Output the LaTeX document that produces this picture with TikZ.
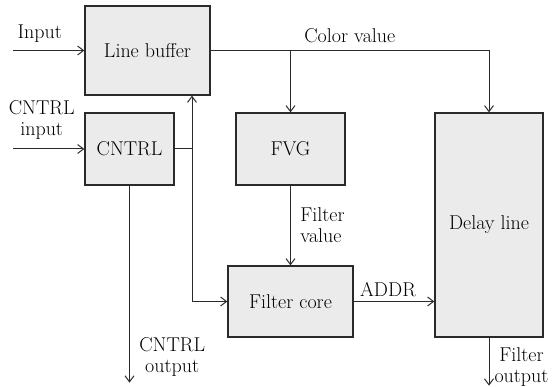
\documentclass[tikz,border=0pt]{standalone}
\usetikzlibrary{arrows.meta,calc}
\definecolor{BoxFill}{HTML}{EBEBEB}
\definecolor{LineGray}{HTML}{2A2A2A}

\begin{document}
\begin{tikzpicture}[x=1pt,y=-1pt,>={Straight Barb[length=6pt,width=9pt]},line cap=butt,line join=miter,
  every node/.style={font=\fontsize{20}{21}\selectfont,text=black},
  block/.style={draw=LineGray,fill=BoxFill,line width=1.2pt,inner sep=0pt},
  wire/.style={LineGray,line width=1pt}]

% Frame of the picture (pixel units, y down)
\useasboundingbox (0,0) rectangle (556,387);

% ---- BLOCKS ----
\node[block,minimum width=125pt,minimum height=89pt] (lb) at (147.5,50.5) {Line buffer};
\node[block,minimum width=89pt,minimum height=72pt] (cntrl) at (129.5,149) {CNTRL};
\node[block,minimum width=109pt,minimum height=72pt] (fvg) at (290.5,149) {FVG};
\node[block,minimum width=125pt,minimum height=71pt] (fc) at (290.5,301.5) {Filter core};
\node[block,minimum width=108pt,minimum height=224pt] (dl) at (489,225) {Delay line};

% Free ends and junction
\coordinate (in) at (13,50.5);
\coordinate (cin) at (13,149);
\coordinate (junc) at (192,149);
\path (cntrl.south) ++(0,197) coordinate (cout);
\path (dl.south) ++(0,48) coordinate (fout);

% ---- INPUTS ----
\draw[wire,->] (in) -- (lb.west)
    node[midway,above,xshift=-9pt,yshift=4pt] (inlbl) {Input};
\draw[wire,->] (cin) -- (cntrl.west)
    node[midway,above,align=center,xshift=-7pt,yshift=6pt] (cinlbl) {CNTRL\\input};

% ---- COLOR VALUE ----
\draw[wire,->] (lb.east) -| (dl.north)
    node[pos=0.25,above,yshift=4pt] (cvlbl) {Color value};
\draw[wire,->] (lb.east -| fvg.north) -- (fvg.north);

% ---- CONTROL ----
\draw[wire] (cntrl.east) -- (junc);
\draw[wire,->] (junc) -- (junc |- lb.south);
\draw[wire,->] (junc) |- (fc.west);
\draw[wire,->] (cntrl.south) -- (cout)
    node[above right,align=center,xshift=6pt,yshift=2pt] (coutlbl) {CNTRL\\output};

% ---- FILTER PATH ----
\draw[wire,->] (fvg.south) -- (fc.north)
    node[midway,right,align=left,xshift=6pt] (fvlbl) {Filter\\value};
\draw[wire,->] (fc.east) -- (fc.east -| dl.west)
    node[midway,above,xshift=-6pt,yshift=1pt] (addrlbl) {ADDR};
\draw[wire,->] (dl.south) -- (fout)
    node[above right,align=center,inner sep=1pt,xshift=4pt,yshift=-2pt] (foutlbl) {Filter\\output};

\end{tikzpicture}
\end{document}
